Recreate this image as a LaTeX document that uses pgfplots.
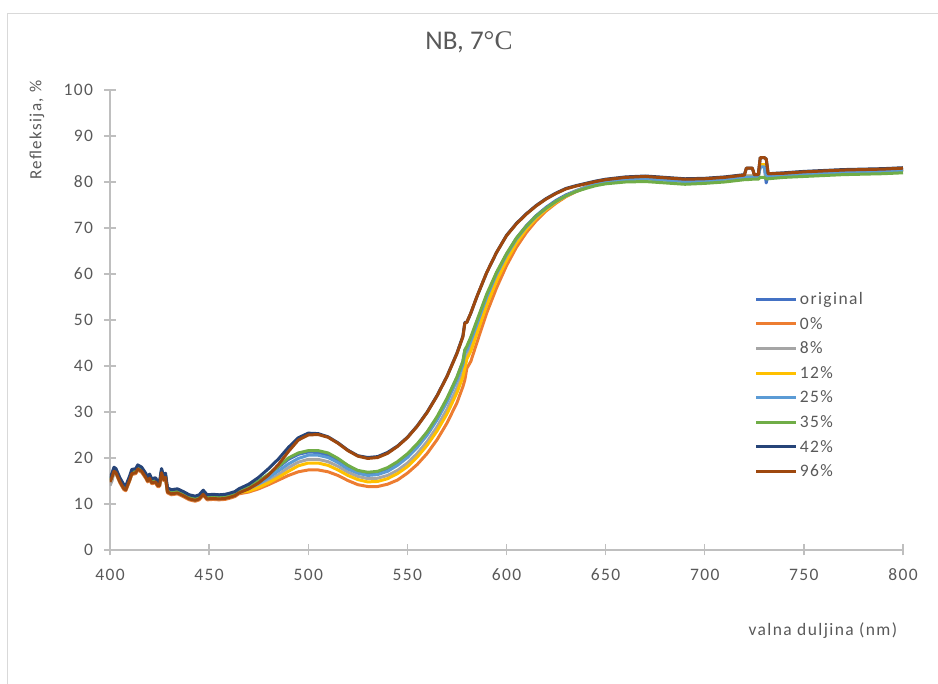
\documentclass[border=0pt]{standalone}
\usepackage{fontspec}
\setmainfont{Carlito}[LetterSpace=8]
\newfontfamily\titlefont{Carlito}
\newfontfamily\seriffont{Liberation Serif}
\usepackage{pgfplots}
\usepackage{pgfplotstable}
\pgfplotsset{compat=1.18}
\definecolor{cOrig}{HTML}{4472C4}
\definecolor{cZero}{HTML}{ED7D31}
\definecolor{cEight}{HTML}{A5A5A5}
\definecolor{cTwelve}{HTML}{FFC000}
\definecolor{cTwentyfive}{HTML}{5B9BD5}
\definecolor{cThirtyfive}{HTML}{70AD47}
\definecolor{cFortytwo}{HTML}{264478}
\definecolor{cNinetysix}{HTML}{9E480E}
\definecolor{txt}{HTML}{595959}
\definecolor{axgray}{HTML}{BFBFBF}
\definecolor{bordergray}{HTML}{D9D9D9}

\pgfplotstableread{
x o p0 p8 p12 p25 p35 p42 p96
400 15.3 14.6 14.0 14.9 15.0 15.2 15.7 14.8
401 16.3 15.6 15.0 15.9 16.0 16.2 16.7 15.8
402 17.6 16.9 16.8 17.2 17.3 17.5 18.0 17.1
403 17.3 16.6 16.8 16.9 17.0 17.2 17.7 16.8
405 15.3 14.6 14.8 14.9 15.0 15.2 15.7 14.8
407 13.8 13.1 13.3 13.4 13.5 13.7 14.2 13.3
408 13.6 12.9 13.1 13.2 13.3 13.5 14.0 13.1
410 15.8 15.1 15.3 15.4 15.5 15.7 16.2 15.3
411 17.1 16.4 16.6 16.7 16.8 17.0 17.5 16.6
413 17.3 16.6 16.8 16.9 17.0 17.2 17.7 16.8
414 18.1 17.4 17.6 17.7 17.8 18.0 18.5 17.6
416 17.6 16.9 17.1 17.2 17.3 17.5 18.0 17.1
418 16.3 15.6 15.8 15.9 16.0 16.2 16.7 15.8
419 15.5 14.8 15.0 15.1 15.2 15.4 15.9 15.0
420 16.1 15.4 15.6 15.7 15.8 16.0 16.5 15.6
421 15.1 14.4 14.6 14.7 14.8 15.0 15.5 14.6
423 15.3 14.6 14.8 14.9 15.0 15.2 15.7 14.8
424 14.5 13.8 14.0 14.1 14.2 14.4 14.9 14.0
425 14.5 13.8 14.0 14.1 14.2 14.4 14.9 14.0
426 17.3 16.6 16.8 16.9 17.0 17.2 17.7 16.8
427 15.8 15.1 15.3 15.4 15.5 15.7 16.2 15.3
428 16.3 15.6 15.8 15.9 16.0 16.2 16.7 15.8
429 13.1 12.4 12.6 12.7 12.8 13.0 13.5 12.6
431 12.7 12.0 12.2 12.3 12.4 12.6 13.1 12.2
434 12.9 12.2 12.4 12.5 12.6 12.8 13.3 12.4
437 12.3 11.6 11.8 11.9 12.0 12.2 12.7 11.8
440 11.6 10.9 11.1 11.2 11.3 11.5 12.0 11.1
443 11.3 10.6 10.8 10.9 11.0 11.2 11.7 10.8
445 11.6 10.9 11.1 11.2 11.3 11.5 12.0 11.1
447 12.6 11.9 12.1 12.2 12.3 12.5 13.0 12.1
449 11.6 10.9 11.1 11.2 11.3 11.5 12.0 11.1
452 11.7 11.0 11.2 11.3 11.4 11.6 12.1 11.2
455 11.6 10.9 11.1 11.2 11.3 11.5 12.0 11.1
458 11.7 11.0 11.2 11.3 11.4 11.6 12.1 11.2
460 11.9 11.2 11.4 11.5 11.6 11.8 12.3 11.4
463 12.3 11.6 11.8 11.9 12.0 12.2 12.7 11.8
465 12.9 12.2 12.4 12.5 12.6 12.8 13.3 12.4
470 13.6 12.6 13.0 12.8 13.3 13.8 14.3 13.3
475 14.8 13.3 13.9 13.6 14.4 15.0 15.8 14.6
480 16.3 14.2 15.0 14.6 15.7 16.5 17.7 16.3
485 18.0 15.2 16.4 15.8 17.2 18.2 19.8 18.6
490 19.7 16.2 17.9 17.1 18.7 20.0 22.3 21.4
495 20.8 17.0 19.1 18.3 19.9 21.1 24.4 23.9
500 21.3 17.4 19.7 18.9 20.6 21.6 25.4 25.0
505 21.2 17.4 19.7 18.9 20.6 21.6 25.3 25.1
510 20.6 17.0 19.2 18.4 20.1 21.1 24.6 24.5
515 19.4 16.2 18.2 17.4 19.0 19.9 23.3 23.2
520 18.0 15.1 16.9 16.2 17.6 18.4 21.7 21.6
525 17.0 14.2 16.0 15.3 16.7 17.3 20.5 20.4
530 16.6 13.8 15.5 14.8 16.2 16.9 20.1 19.9
535 16.8 13.8 15.6 14.9 16.4 17.1 20.3 20.1
540 17.6 14.3 16.2 15.5 17.1 17.9 21.2 21.0
545 18.9 15.2 17.3 16.6 18.4 19.2 22.6 22.5
550 20.6 16.7 18.9 18.1 20.1 20.9 24.5 24.4
555 22.8 18.6 21.0 20.2 22.3 23.1 27.0 26.9
560 25.5 21.0 23.6 22.8 25.0 25.7 30.0 29.9
565 28.8 24.0 26.8 25.9 28.3 29.0 33.6 33.5
570 32.8 27.6 30.6 29.6 32.2 33.0 37.8 37.7
575 37.5 32.0 35.2 34.2 36.9 37.6 42.8 42.7
578 41.0 35.5 38.6 37.6 40.3 41.0 46.5 46.3
579 43.5 37.0 41.0 39.5 42.8 43.5 49.5 49.3
580 44.0 39.5 42.2 41.5 43.5 44.3 49.5 49.5
582 46.0 41.0 44.0 43.2 45.5 46.3 51.5 51.5
585 49.5 45.0 47.8 47.0 49.0 49.8 55.0 55.0
590 55.3 51.5 53.8 53.2 55.0 55.6 60.3 60.3
595 60.2 57.0 59.0 58.5 60.0 60.4 64.7 64.7
600 64.3 61.8 63.3 62.9 64.1 64.4 68.4 68.3
605 67.8 65.8 67.0 66.7 67.6 67.8 71.0 70.9
610 70.5 69.0 69.9 69.7 70.3 70.4 73.1 73.0
615 72.7 71.6 72.3 72.1 72.5 72.6 74.9 74.8
620 74.5 73.7 74.1 74.0 74.3 74.3 76.4 76.3
625 76.0 75.4 75.7 75.6 75.8 75.8 77.6 77.5
630 77.2 76.8 77.0 76.9 77.0 77.0 78.6 78.5
635 78.1 77.9 78.0 78.0 78.0 77.9 79.2 79.1
640 78.9 78.8 78.8 78.8 78.8 78.6 79.7 79.6
645 79.6 79.5 79.5 79.5 79.5 79.2 80.2 80.1
650 80.1 80.1 80.1 80.1 80.0 79.6 80.6 80.5
660 80.6 80.7 80.6 80.6 80.5 80.0 81.1 81.0
670 80.8 80.9 80.8 80.8 80.7 80.1 81.3 81.2
680 80.6 80.6 80.5 80.5 80.4 79.8 81.0 80.9
690 80.3 80.3 80.2 80.2 80.1 79.5 80.7 80.6
700 80.4 80.4 80.3 80.3 80.2 79.7 80.8 80.7
710 80.8 80.8 80.7 80.7 80.6 80.0 81.1 81.0
720 81.2 81.2 81.1 81.1 81.0 80.5 81.6 81.5
721 81.3 81.3 81.2 81.2 81.1 80.5 83.0 83.0
724 81.3 81.3 81.2 81.2 81.1 80.6 83.0 83.0
725 81.3 81.3 81.2 81.2 81.1 80.6 81.6 81.6
727 81.3 81.3 81.2 81.2 81.1 80.6 81.6 81.6
728 83.5 83.8 83.5 83.8 83.3 81.0 85.3 85.3
730 83.5 83.8 83.5 83.8 83.3 81.0 85.3 85.3
731 79.8 81.4 81.3 81.4 81.3 80.7 85.0 85.0
732 81.5 81.5 81.4 81.4 81.3 80.7 81.8 81.8
740 81.7 81.7 81.6 81.6 81.5 81.0 82.0 81.9
750 81.9 81.9 81.8 81.8 81.7 81.2 82.3 82.2
760 82.1 82.1 82.0 82.0 81.9 81.4 82.5 82.4
770 82.3 82.3 82.2 82.2 82.1 81.6 82.7 82.6
780 82.4 82.4 82.3 82.3 82.2 81.7 82.8 82.7
790 82.5 82.5 82.4 82.4 82.3 81.8 82.9 82.8
800 82.7 82.7 82.6 82.6 82.5 82.0 83.1 83.0
}\spectra

\begin{document}
\begin{tikzpicture}
\useasboundingbox (0pt,0pt) rectangle (938pt,684pt);
\draw[bordergray, line width=1pt] (7.5pt,0pt) -- (7.5pt,670pt) -- (938pt,670pt);
\begin{axis}[
  at={(110pt,134pt)}, anchor=south west,
  scale only axis, width=793pt, height=460pt,
  xmin=400, xmax=800, ymin=0, ymax=100,
  xtick={400,450,...,800}, ytick={0,10,...,100},
  axis x line*=bottom, axis y line*=left,
  axis line style={axgray, line width=1.3pt, -},
  major tick style={axgray, line width=1.3pt},
  major tick length=11pt, tick align=center,
  ticklabel style={font=\fontsize{17.5}{20}\selectfont, text=txt},
  /pgf/number format/assume math mode=true,
  xticklabel style={yshift=-10pt},
  yticklabel style={xshift=-8pt},
  title={{\titlefont NB, 7}{\seriffont °C}},
  title style={at={(0.4527,1.0913)}, anchor=center, font=\fontsize{27}{31}\selectfont, text=txt},
  xlabel={valna duljina (nm)},
  xlabel style={at={(0.899,-0.176)}, anchor=center, font=\fontsize{17.5}{20}\selectfont, text=txt},
  ylabel={Refleksija, \%},
  ylabel style={at={(-0.092,0.913)}, anchor=center, rotate=0, font=\fontsize{17}{20}\selectfont, text=txt},
  legend cell align=left,
  legend style={at={(0.813,0.5723)}, anchor=north west, draw=none, fill=none,
    inner sep=0pt, row sep=0pt,
    nodes={inner sep=2pt, minimum height=24.6pt, font=\fontsize{17.5}{20}\selectfont, text=txt}},
  legend image code/.code={\draw[#1, line width=3pt] (0pt,0pt) -- (40pt,0pt);},
  every axis plot/.append style={line width=3pt, line join=round},
]
\addplot[cOrig] table[x=x, y=o] {\spectra};
\addlegendentry{original}
\addplot[cZero] table[x=x, y=p0] {\spectra};
\addlegendentry{0\%}
\addplot[cEight] table[x=x, y=p8] {\spectra};
\addlegendentry{8\%}
\addplot[cTwelve] table[x=x, y=p12] {\spectra};
\addlegendentry{12\%}
\addplot[cTwentyfive] table[x=x, y=p25] {\spectra};
\addlegendentry{25\%}
\addplot[cThirtyfive] table[x=x, y=p35] {\spectra};
\addlegendentry{35\%}
\addplot[cFortytwo] table[x=x, y=p42] {\spectra};
\addlegendentry{42\%}
\addplot[cNinetysix] table[x=x, y=p96] {\spectra};
\addlegendentry{96\%}
\end{axis}
\end{tikzpicture}
\end{document}
